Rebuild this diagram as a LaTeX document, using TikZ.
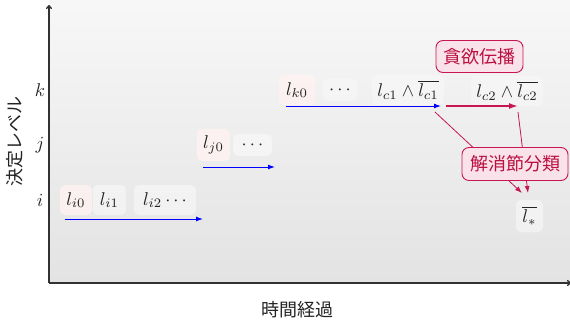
\documentclass[tikz,border=0pt]{standalone}
\usepackage{graphicx}
\usepackage{fontspec}
\newfontfamily\cjk{Noto Sans CJK JP}
\usetikzlibrary{arrows.meta}
\newcommand\mathbig[1]{\scalebox{1.85}{$#1$}}
\definecolor{crim}{RGB}{200,22,80}
\definecolor{crimtext}{RGB}{185,15,65}
\definecolor{pinkfill}{RGB}{250,226,234}
\definecolor{axisgray}{RGB}{50,50,50}
\definecolor{mathtext}{RGB}{35,35,35}
\begin{document}
\begin{tikzpicture}[x=1pt,y=-1pt,
  every node/.style={text=mathtext},
  lbox/.style={rounded corners=5pt, minimum height=30pt, inner sep=2pt},
  pinkbox/.style={lbox, fill=red!5, fill opacity=0.85, text opacity=1},
  graybox/.style={lbox, fill=white, fill opacity=0.45, text opacity=1},
  faintbox/.style={lbox, fill=white, fill opacity=0.3, text opacity=1},
  tagbox/.style={draw=crim, line width=0.9pt, fill=pinkfill, rounded corners=7pt,
    text=crimtext, font=\cjk\fontsize{18}{20}\selectfont, inner sep=3pt, minimum height=32pt},
  cjklabel/.style={font=\cjk\fontsize{18}{20}\selectfont},
  bluearr/.style={blue, line width=1pt, -{Latex[length=7pt,width=5pt]}},
  redarr/.style={crim, line width=1.6pt, -{Latex[length=9pt,width=6pt]}},
  redthin/.style={crim, line width=0.8pt, -{Latex[length=7pt,width=5pt]}},
  axis/.style={axisgray, line width=1.3pt, -{To[length=4pt,width=6pt]}}
]
\useasboundingbox (0,0) rectangle (570,327);
\shade[top color=white!97!black, bottom color=black!11] (49,0) rectangle (570,283);

% axes
\coordinate (O) at (49,283);
\coordinate (ytop) at (49,5);
\coordinate (xend) at (571,283);
\draw[axis] (O) -- (ytop);
\draw[axis] (O) -- (xend);

% axis labels
\node[cjklabel, rotate=90] (ylab) at (15,141) {決定レベル};
\node[cjklabel] (xlab) at (297,310) {時間経過};
\node (lk) at (40,90) {\mathbig{k}};
\node (lj) at (40,145) {\mathbig{j}};
\node (li) at (40,200) {\mathbig{i}};

% level i
\node[pinkbox, minimum width=32pt] (i0) at (76,200) {\mathbig{l_{i0}}};
\node[graybox, minimum width=33pt] (i1) at (109.5,200) {\mathbig{l_{i1}}};
\node[graybox, minimum width=62pt] (i2) at (165,200) {\mathbig{l_{i2}\cdots}};
\coordinate (ia) at (65,219);
\coordinate (ib) at (203,219);
\draw[bluearr] (ia) -- (ib);

% level j
\node[pinkbox, minimum width=33pt, minimum height=32pt] (j0) at (213.5,145) {\mathbig{l_{j0}}};
\node[graybox, minimum width=39pt, minimum height=22pt] (jd) at (252.5,145) {\mathbig{\cdots}};
\coordinate (ja) at (203,167);
\coordinate (jb) at (275,167);
\draw[bluearr] (ja) -- (jb);

% level k
\node[pinkbox, minimum width=36pt] (k0) at (297,90) {\mathbig{l_{k0}}};
\node[faintbox, minimum width=34pt, minimum height=22pt] (kd) at (340,90) {\mathbig{\cdots}};
\node[faintbox, minimum width=72pt] (c1) at (408,90) {\mathbig{l_{c1}\wedge\overline{l_{c1}}}};
\node[faintbox, minimum width=72pt] (c2) at (507,91) {\mathbig{l_{c2}\wedge\overline{l_{c2}}}};
\coordinate (ka) at (286,106);
\coordinate (kb) at (441,106);
\draw[bluearr] (ka) -- (kb);
\coordinate (ra) at (446,106);
\coordinate (rb) at (518,106);
\draw[redarr] (ra) -- (rb);

% result
\node[graybox, minimum width=27pt, minimum height=32pt] (ls) at (529.5,216) {\mathbig{\overline{l_*}}};
\coordinate (s1) at (435,112);
\coordinate (s2) at (518,112);
\coordinate (e1) at (522,193);
\coordinate (e2) at (528,193);
\draw[redthin] (s1) -- (e1);
\draw[redthin] (s2) -- (e2);

% tags
\node[tagbox, minimum width=87pt] (greedy) at (479.5,56.5) {貪欲伝播};
\node[tagbox, minimum width=106pt, minimum height=33pt] (resol) at (515,164) {解消節分類};
\end{tikzpicture}
\end{document}
